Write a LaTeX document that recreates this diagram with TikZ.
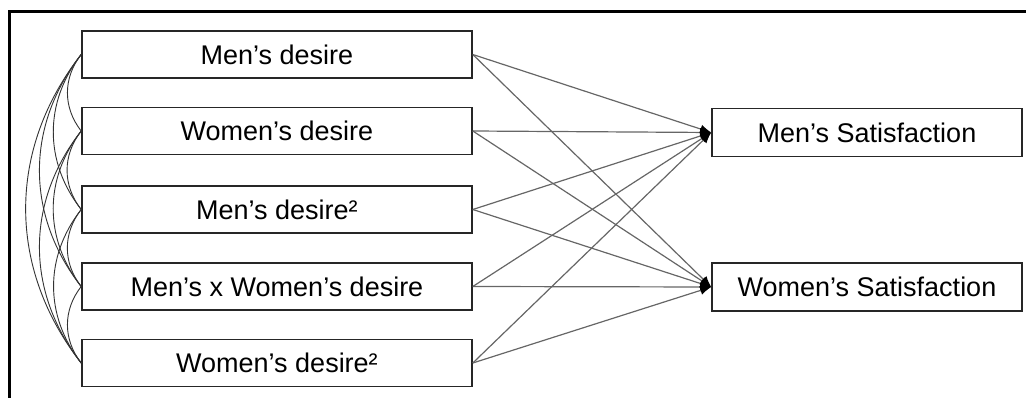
\documentclass[tikz,border=0pt]{standalone}
\usepackage{fontspec}
\setmainfont{Liberation Sans}
\usetikzlibrary{arrows.meta}
\tikzset{
  varbox/.style={draw=black!85, line width=1.6pt, minimum width=390pt, minimum height=47pt,
    inner sep=0pt, font=\fontsize{27}{32}\selectfont},
  outbox/.style={varbox, minimum width=310pt, minimum height=48pt},
  path/.style={draw=black!60, line width=1.2pt, -{Latex[length=11pt,width=9pt,black]}},
  cov/.style={draw=black!80, line width=0.9pt, bend right=38}
}
\begin{document}
\begin{tikzpicture}[x=1pt,y=-1pt]
  \useasboundingbox (0,0) rectangle (1026,398);
  \draw[line width=3pt] (9,420) -- (9,12) -- (1040,12);
  \path
    (277,54.5) node[varbox] (1){Men’s desire}
    (277,131) node[varbox] (2){Women’s desire}
    (277,209.5) node[varbox] (3){Men’s desire²}
    (277,286.5) node[varbox] (4){Men’s x Women’s desire}
    (277,363) node[varbox] (5){Women’s desire²}
    (867,132.5) node[outbox] (6){Men’s Satisfaction}
    (867,287) node[outbox] (7){Women’s Satisfaction};
  % paths to the outcomes
  \begin{scope}
    \draw[path] (1.east) to (6.west);
    \draw[path] (1.east) to (7.west);
    \draw[path] (2.east) to (6.west);
    \draw[path] (2.east) to (7.west);
    \draw[path] (3.east) to (6.west);
    \draw[path] (3.east) to (7.west);
    \draw[path] (4.east) to (6.west);
    \draw[path] (4.east) to (7.west);
    \draw[path] (5.east) to (6.west);
    \draw[path] (5.east) to (7.west);
  \end{scope}
  % covariances among the predictors
  \begin{scope}
    \draw[cov] (1.west) to (2.west);
    \draw[cov] (1.west) to (3.west);
    \draw[cov] (1.west) to (4.west);
    \draw[cov] (1.west) to (5.west);
    \draw[cov] (2.west) to (3.west);
    \draw[cov] (2.west) to (4.west);
    \draw[cov] (2.west) to (5.west);
    \draw[cov] (3.west) to (4.west);
    \draw[cov] (3.west) to (5.west);
    \draw[cov] (4.west) to (5.west);
  \end{scope}
\end{tikzpicture}
\end{document}
